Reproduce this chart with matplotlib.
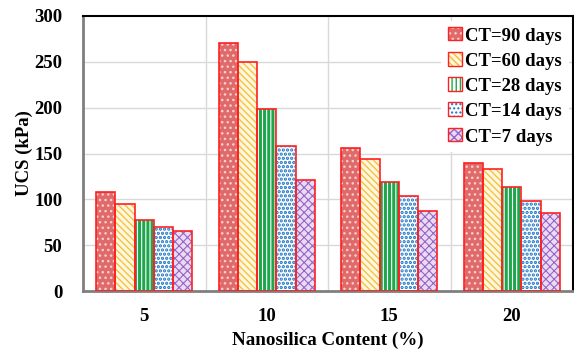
import matplotlib
matplotlib.use("Agg")
import matplotlib.pyplot as plt
import numpy as np
from matplotlib.patches import Rectangle
from matplotlib.legend_handler import HandlerBase

categories = ["5", "10", "15", "20"]
series_labels = ["CT=90 days", "CT=60 days", "CT=28 days", "CT=14 days", "CT=7 days"]
ct90 = [108, 270.5, 156, 139.5]
ct60 = [95, 250, 144, 133]
ct28 = [77.5, 198.5, 119, 113.5]
ct14 = [70, 158, 103.5, 98]
ct7 = [65.5, 121, 87, 85]
series = [ct90, ct60, ct28, ct14, ct7]
yticks = [0, 50, 100, 150, 200, 250, 300]

faces = ["#e06a6a", "#fff7dc", "#ffffff", "#ffffff", "#e8dcf2"]
hatch_colors = ["#f6d0d0", "#f2bd3a", "#1fa64c", "#1b74c4", "#9a62c8"]
hatches = ["...", "\\\\\\\\\\", "||||", "....", "xxxx"]
hatch_lws = [1.0, 0.9, 2.2, 1.6, 0.8]

plt.rcParams['font.family'] = ['Liberation Serif', 'DejaVu Serif']
plt.rcParams['font.weight'] = 'bold'

fig = plt.figure(figsize=(5.74, 3.52), dpi=100)
ax = fig.add_axes([83/574, 61/352, 490/574, 275/352])

x = np.arange(len(categories))
n = len(series)
w = 0.784 / n
handles = []
for i, (vals, lab) in enumerate(zip(series, series_labels)):
    pos = x - 0.392 + w * (i + 0.5)
    plt.rcParams['hatch.linewidth'] = hatch_lws[i]
    ax.bar(pos, vals, w, color=faces[i], hatch=hatches[i], edgecolor=hatch_colors[i],
           linewidth=0, zorder=2)
    ax.bar(pos, vals, w, fill=False, edgecolor="#ff2020", linewidth=1.2, zorder=3)
    h = Rectangle((0, 0), 1, 1, facecolor=faces[i], hatch=hatches[i], edgecolor=hatch_colors[i], linewidth=0)
    handles.append(h)

ax.set_xlim(-0.5, len(categories) - 0.5)
ax.set_ylim(0, 300)
ax.set_yticks(yticks)
ax.set_xticks(x)
ax.set_xticklabels(categories)
ax.tick_params(axis='both', length=0, labelsize=13.5)
ax.tick_params(axis='y', pad=15)
ax.tick_params(axis='x', pad=12)

for yv in yticks[1:-1]:
    ax.axhline(yv, color="#d9d9d9", linewidth=1, zorder=1)
for xv in [0.5, 1.5, 2.5]:
    ax.axvline(xv, color="#d9d9d9", linewidth=1, zorder=1)

for s in ['left', 'bottom']:
    ax.spines[s].set_color('#7f7f7f')
    ax.spines[s].set_linewidth(2)
for s in ['top', 'right']:
    ax.spines[s].set_color('#000000')
    ax.spines[s].set_linewidth(1.5)

ax.set_xlabel("Nanosilica Content (%)", fontsize=13.7, fontweight='bold', labelpad=5)
ax.set_ylabel("UCS (kPa)", fontsize=13.5, fontweight='bold', labelpad=1)


class HandlerHatch(HandlerBase):
    def create_artists(self, legend, orig, xd, yd, width, height, fontsize, trans):
        s = min(width, height)
        r1 = Rectangle((xd + width - s, yd + (height - s) / 2), s, s, facecolor=orig.get_facecolor(),
                       hatch=orig.get_hatch(), edgecolor=orig.get_edgecolor(), linewidth=0, transform=trans)
        r2 = Rectangle((xd + width - s, yd + (height - s) / 2), s, s, fill=False,
                       edgecolor="#ff2020", linewidth=1.0, transform=trans)
        return [r1, r2]


plt.rcParams['hatch.linewidth'] = 1.0
leg = ax.legend(handles, series_labels, loc='upper right', bbox_to_anchor=(0.995, 0.99),
                frameon=True, fancybox=False, edgecolor='none', facecolor='white', framealpha=1,
                prop={'size': 13.5, 'weight': 'bold'}, handler_map={Rectangle: HandlerHatch()},
                handlelength=0.75, handleheight=0.75, handletextpad=0.2, labelspacing=0.42,
                borderaxespad=0.1, borderpad=0.35)
leg.set_zorder(5)

fig.savefig("out.png", dpi=100)
